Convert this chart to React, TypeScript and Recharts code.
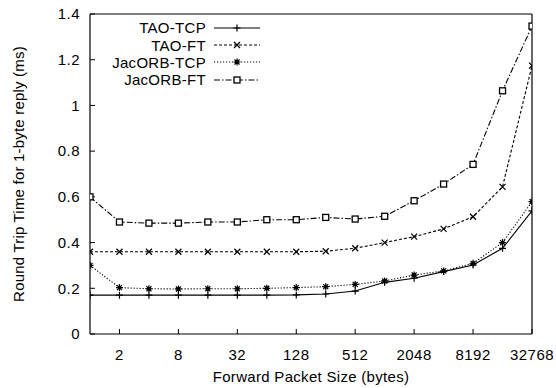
import React from 'react';
import { LineChart, Line, XAxis, YAxis, Legend } from 'recharts';

const sizes = [1, 2, 4, 8, 16, 32, 64, 128, 256, 512, 1024, 2048, 4096, 8192, 16384, 32768];
const taoTcp = [0.17, 0.17, 0.17, 0.17, 0.17, 0.17, 0.17, 0.171, 0.175, 0.188, 0.226, 0.244, 0.273, 0.302, 0.375, 0.539];
const taoFt = [0.36, 0.36, 0.36, 0.36, 0.36, 0.36, 0.36, 0.36, 0.362, 0.375, 0.4, 0.426, 0.46, 0.513, 0.644, 1.174];
const jacorbTcp = [0.3, 0.203, 0.198, 0.197, 0.198, 0.198, 0.2, 0.203, 0.207, 0.217, 0.232, 0.258, 0.276, 0.309, 0.4, 0.579];
const jacorbFt = [0.6, 0.49, 0.485, 0.485, 0.49, 0.49, 0.5, 0.5, 0.51, 0.503, 0.515, 0.583, 0.656, 0.742, 1.064, 1.347];

const xTicks = [2, 8, 32, 128, 512, 2048, 8192, 32768];
const yTicks = [0, 0.2, 0.4, 0.6, 0.8, 1, 1.2, 1.4];
const minorSteps = [1.5, 2, 2.5, 3, 3.5];
const xMinor = [0.5, ...xTicks].flatMap(m => minorSteps.map(k => m * k)).filter(v => v > 1 && v < 32768);

const data = sizes.map((size, i) => ({
  size,
  taoTcp: taoTcp[i],
  taoFt: taoFt[i],
  jacorbTcp: jacorbTcp[i],
  jacorbFt: jacorbFt[i],
}));

const FONT = '"Liberation Sans", Arial, Helvetica, sans-serif';

type Mark = 'plus' | 'cross' | 'star' | 'square';

const series: { key: string; name: string; dash?: string; mark: Mark }[] = [
  { key: 'taoTcp', name: 'TAO-TCP', mark: 'plus' },
  { key: 'taoFt', name: 'TAO-FT', dash: '3 2', mark: 'cross' },
  { key: 'jacorbTcp', name: 'JacORB-TCP', dash: '1.2 1.8', mark: 'star' },
  { key: 'jacorbFt', name: 'JacORB-FT', dash: '6 2 1.5 2', mark: 'square' },
];

const MarkShape = ({ cx, cy, mark }: { cx: number; cy: number; mark: Mark }) => {
  if (cx == null || cy == null) return null;
  if (mark === 'plus') {
    return <path d={`M${cx - 3.5},${cy}H${cx + 3.5}M${cx},${cy - 3.5}V${cy + 3.5}`} stroke="#000" strokeWidth={1.2} />;
  }
  if (mark === 'cross') {
    return <path d={`M${cx - 3},${cy - 3}L${cx + 3},${cy + 3}M${cx - 3},${cy + 3}L${cx + 3},${cy - 3}`} stroke="#000" strokeWidth={1.2} />;
  }
  if (mark === 'star') {
    return (
      <g>
        <path d={`M${cx - 3.5},${cy}H${cx + 3.5}M${cx},${cy - 3.5}V${cy + 3.5}M${cx - 2.5},${cy - 2.5}L${cx + 2.5},${cy + 2.5}M${cx - 2.5},${cy + 2.5}L${cx + 2.5},${cy - 2.5}`} stroke="#000" strokeWidth={1.2} />
        <circle cx={cx} cy={cy} r={1.8} fill="#000" />
      </g>
    );
  }
  return <rect x={cx - 3} y={cy - 3} width={6} height={6} fill="#fff" stroke="#000" strokeWidth={1.3} />;
};

const makeDot = (mark: Mark) => (props: any) => (
  <MarkShape key={`dot-${mark}-${props.index}`} cx={props.cx} cy={props.cy} mark={mark} />
);

const LegendBox = () => (
  <div style={{ fontFamily: FONT, fontSize: 15, color: '#000' }}>
    {series.map(s => (
      <div key={s.key} style={{ display: 'flex', alignItems: 'center', justifyContent: 'flex-end', height: 17.4 }}>
        <span style={{ letterSpacing: 0.3, lineHeight: '17px' }}>{s.name}</span>
        <svg width={46} height={12} style={{ marginLeft: 8 }}>
          <line x1={0} y1={6} x2={46} y2={6} stroke="#000" strokeWidth={1.1} strokeDasharray={s.dash} />
          <MarkShape cx={23} cy={6} mark={s.mark} />
        </svg>
      </div>
    ))}
  </div>
);

const tickStyle = { fill: '#000', fontSize: 15, fontFamily: FONT, letterSpacing: 0.5 };
const lineStyle = { stroke: '#000', strokeWidth: 1.2 };
const tickLineStyle = { stroke: '#000', strokeWidth: 1 };

export default function App() {
  return (
    <div style={{ width: 556, height: 388, background: '#fff' }}>
      <style>{'body{margin:0;background:#fff}'}</style>
      <LineChart
        width={556}
        height={388}
        data={data}
        margin={{ top: 12, right: 23, left: 30, bottom: 0 }}
        style={{ fontFamily: FONT }}
      >
        <XAxis
          xAxisId="main"
          dataKey="size"
          type="number"
          scale="log"
          domain={[1, 32768]}
          allowDataOverflow
          ticks={xTicks}
          interval={0}
          height={53}
          tickSize={-5}
          tickMargin={20}
          stroke="#000"
          axisLine={lineStyle}
          tickLine={tickLineStyle}
          tick={tickStyle}
          label={(p: any) => {
            const vb = p.viewBox || {};
            return (
              <text x={vb.x + vb.width / 2} y={378} textAnchor="middle" dominantBaseline="middle" fontSize={15} fontFamily={FONT} fill="#000" letterSpacing={0.3}>
                Forward Packet Size (bytes)
              </text>
            );
          }}
        />
        <XAxis
          xAxisId="minor"
          dataKey="size"
          type="number"
          scale="log"
          domain={[1, 32768]}
          allowDataOverflow
          ticks={xMinor}
          interval={0}
          height={1}
          tickSize={-2.5}
          stroke="#000"
          axisLine={false}
          tickLine={tickLineStyle}
          tick={false}
        />
        <XAxis
          xAxisId="top"
          orientation="top"
          dataKey="size"
          type="number"
          scale="log"
          domain={[1, 32768]}
          allowDataOverflow
          ticks={xTicks}
          interval={0}
          height={1}
          tickSize={-5}
          stroke="#000"
          axisLine={lineStyle}
          tickLine={tickLineStyle}
          tick={false}
        />
        <XAxis
          xAxisId="topMinor"
          orientation="top"
          dataKey="size"
          type="number"
          scale="log"
          domain={[1, 32768]}
          allowDataOverflow
          ticks={xMinor}
          interval={0}
          height={1}
          tickSize={-2.5}
          stroke="#000"
          axisLine={false}
          tickLine={tickLineStyle}
          tick={false}
        />
        <YAxis
          yAxisId="left"
          type="number"
          domain={[0, 1.4]}
          ticks={yTicks}
          interval={0}
          width={60}
          tickSize={-5}
          tickMargin={15}
          stroke="#000"
          axisLine={lineStyle}
          tickLine={tickLineStyle}
          tick={tickStyle}
          tickFormatter={(v: number) => String(v)}
          label={(p: any) => {
            const vb = p.viewBox || {};
            const cy = vb.y + vb.height / 2;
            return (
              <text x={20} y={cy} transform={`rotate(-90, 20, ${cy})`} textAnchor="middle" dominantBaseline="middle" fontSize={15} fontFamily={FONT} fill="#000" letterSpacing={0.2}>
                Round Trip Time for 1-byte reply (ms)
              </text>
            );
          }}
        />
        <YAxis
          yAxisId="right"
          orientation="right"
          type="number"
          domain={[0, 1.4]}
          ticks={yTicks}
          interval={0}
          width={1}
          tickSize={-5}
          stroke="#000"
          axisLine={lineStyle}
          tickLine={tickLineStyle}
          tick={false}
        />
        <Legend
          layout="horizontal"
          verticalAlign="middle"
          align="center"
          content={<LegendBox />}
          wrapperStyle={{ top: 19, left: 90, width: 170 }}
        />
        {series.map(s => (
          <Line
            key={s.key}
            xAxisId="main"
            yAxisId="left"
            type="linear"
            dataKey={s.key}
            name={s.name}
            stroke="#000"
            strokeWidth={1.1}
            strokeDasharray={s.dash}
            dot={makeDot(s.mark)}
            activeDot={false}
            isAnimationActive={false}
          />
        ))}
      </LineChart>
    </div>
  );
}
